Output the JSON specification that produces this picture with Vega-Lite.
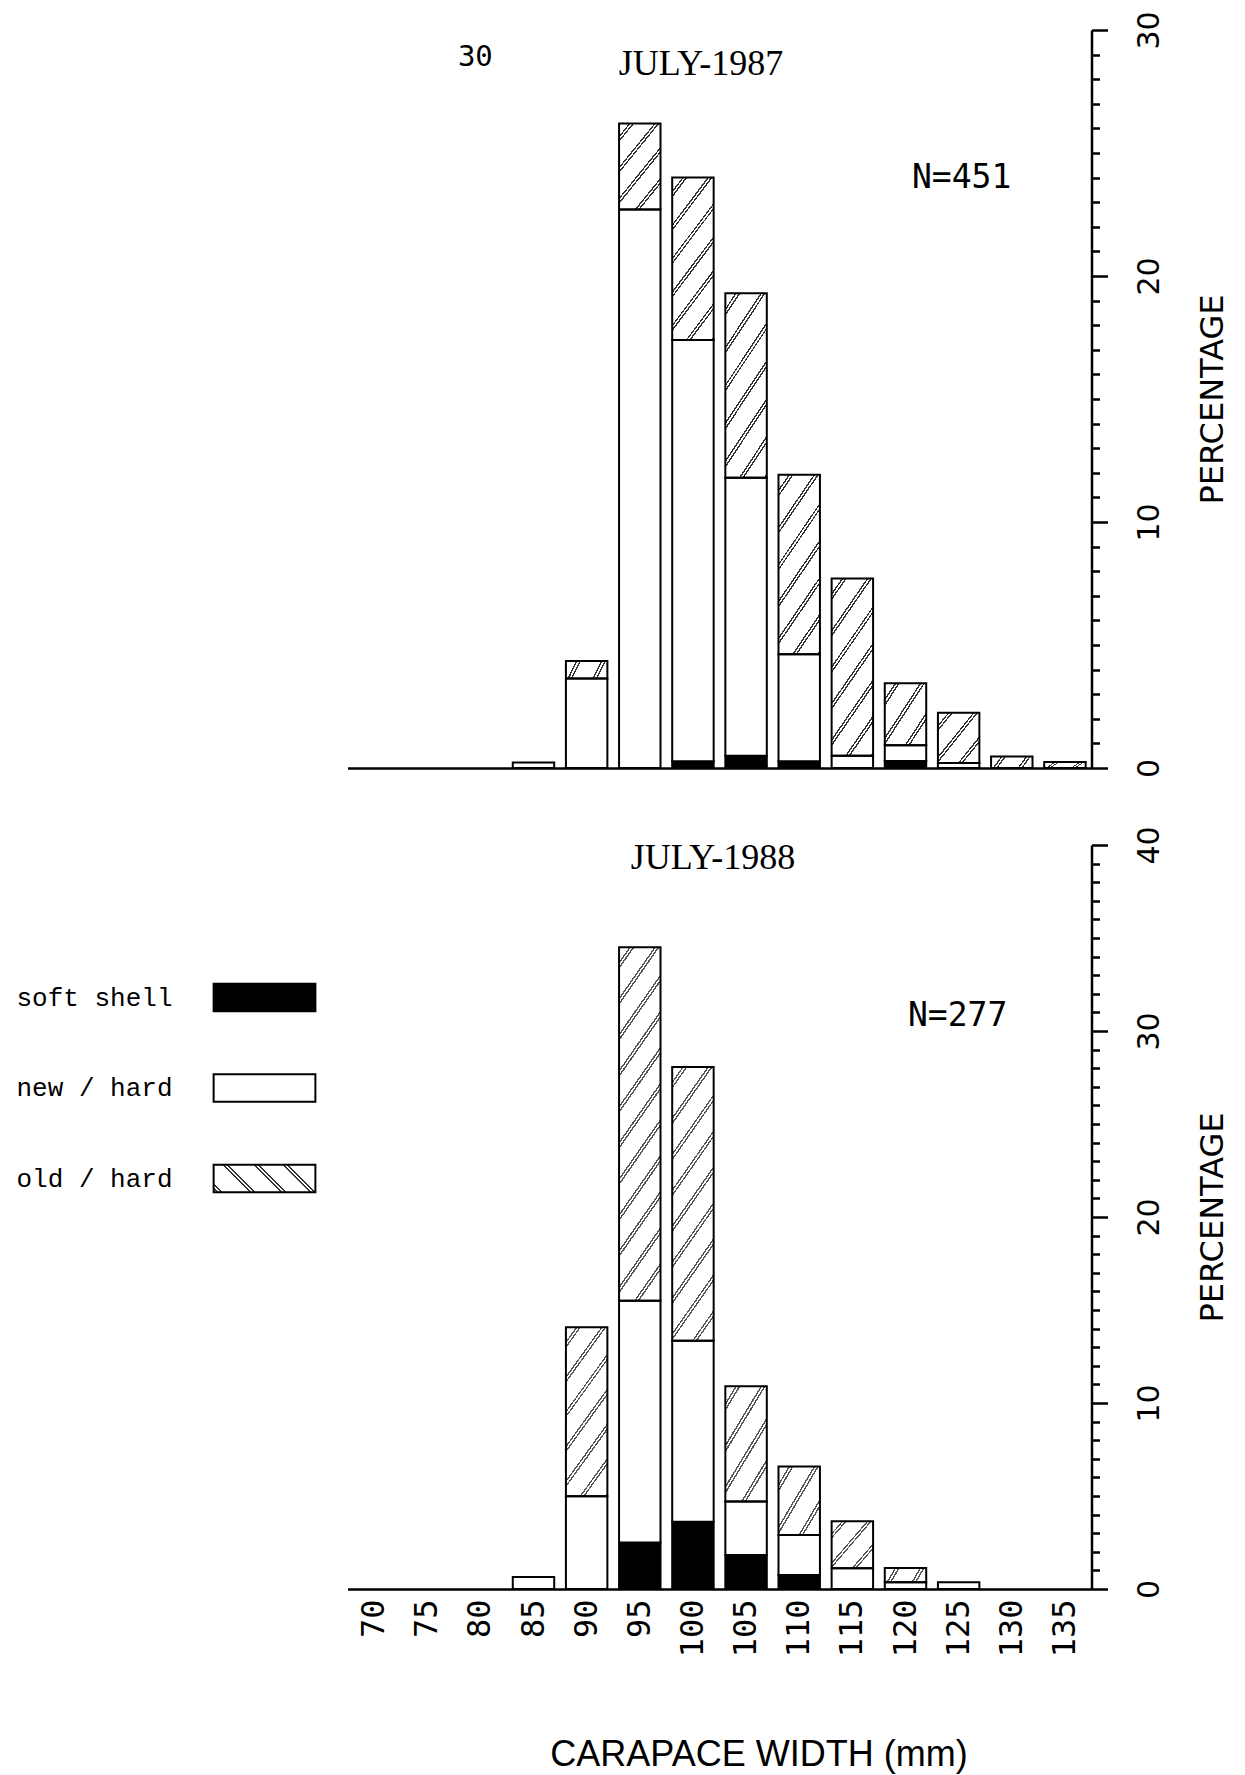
{
  "$schema": "https://vega.github.io/schema/vega-lite/v6.json",
  "background": "white",
  "padding": {"left": 5.5, "top": 10, "right": 5, "bottom": 5},
  "spacing": 47,
  "resolve": {"scale": {"fill": "independent", "x": "independent", "y": "independent"}, "legend": {"fill": "independent"}},
  "config": {"view": {"stroke": null}, "font": "DejaVu Sans"},
  "vconcat": [
    {
      "width": 744,
      "height": 738,
      "data": {"values": [
        {"cw": 85, "shell": "new / hard", "pct": 0.22},
        {"cw": 90, "shell": "new / hard", "pct": 3.64},
        {"cw": 90, "shell": "old / hard", "pct": 0.71},
        {"cw": 95, "shell": "new / hard", "pct": 22.7},
        {"cw": 95, "shell": "old / hard", "pct": 3.5},
        {"cw": 100, "shell": "soft shell", "pct": 0.27},
        {"cw": 100, "shell": "new / hard", "pct": 17.13},
        {"cw": 100, "shell": "old / hard", "pct": 6.6},
        {"cw": 105, "shell": "soft shell", "pct": 0.5},
        {"cw": 105, "shell": "new / hard", "pct": 11.3},
        {"cw": 105, "shell": "old / hard", "pct": 7.5},
        {"cw": 110, "shell": "soft shell", "pct": 0.27},
        {"cw": 110, "shell": "new / hard", "pct": 4.35},
        {"cw": 110, "shell": "old / hard", "pct": 7.3},
        {"cw": 115, "shell": "new / hard", "pct": 0.5},
        {"cw": 115, "shell": "old / hard", "pct": 7.2},
        {"cw": 120, "shell": "soft shell", "pct": 0.28},
        {"cw": 120, "shell": "new / hard", "pct": 0.64},
        {"cw": 120, "shell": "old / hard", "pct": 2.53},
        {"cw": 125, "shell": "new / hard", "pct": 0.2},
        {"cw": 125, "shell": "old / hard", "pct": 2.05},
        {"cw": 130, "shell": "old / hard", "pct": 0.47},
        {"cw": 135, "shell": "old / hard", "pct": 0.24}
      ]},
      "layer": [
        {
          "transform": [
            {"calculate": "indexof(['soft shell','new / hard','old / hard'], datum.shell)", "as": "ord"},
            {"stack": "pct", "groupby": ["cw"], "sort": [{"field": "ord", "order": "ascending"}], "as": ["p0", "p1"]},
            {"filter": "datum.shell === 'old / hard'"}
          ],
          "mark": {"type": "bar", "strokeWidth": 0},
          "encoding": {
            "x": {"field": "cw", "type": "ordinal", "scale": {"domain": [70,75,80,85,90,95,100,105,110,115,120,125,130,135], "paddingInner": 0.22, "paddingOuter": 0.11},
              "axis": {"labels": false, "ticks": false, "title": null, "domainColor": "black", "domainWidth": 2.5}},
            "y": {"field": "p1", "type": "quantitative", "scale": {"domain": [0, 30], "nice": false},
              "axis": {"orient": "right", "values": [0,1,2,3,4,5,6,7,8,9,10,11,12,13,14,15,16,17,18,19,20,21,22,23,24,25,26,27,28,29,30], "tickCount": 60, "format": "d",
                "labelExpr": "datum.value % 10 === 0 ? datum.label : ''",
                "tickSize": {"condition": {"test": "datum.value % 10 === 0", "value": 16}, "value": 8},
                "tickWidth": 2.5, "tickColor": "black", "domainColor": "black", "domainWidth": 2.5, "grid": false,
                "labelAngle": 270, "labelAlign": "center", "labelBaseline": "middle", "labelFont": "DejaVu Sans", "labelFontSize": 30, "labelPadding": 42, "labelColor": "black",
                "labelFlush": false, "labelOverlap": false, "labelBound": false,
                "title": "PERCENTAGE", "titleAngle": 270, "titleFont": "DejaVu Sans", "titleFontSize": 32, "titleFontWeight": "normal", "titleColor": "black",
                "titleX": 121, "titleY": 369, "titleAlign": "center", "titleBaseline": "middle"}},
            "y2": {"field": "p0"},
            "fill": {
              "condition": [
                {"test": "datum.pct < 1.5", "value": {"gradient": "linear", "x1": 0, "y1": 0, "x2": 1.156, "y2": 0.234, "stops": [
                  {"offset":0,"color":"#fff"},
                  {"offset":0.2,"color":"#fff"},{"offset":0.2,"color":"#333"},{"offset":0.232,"color":"#333"},{"offset":0.232,"color":"#fff"},{"offset":0.268,"color":"#fff"},{"offset":0.268,"color":"#333"},{"offset":0.3,"color":"#333"},{"offset":0.3,"color":"#fff"},
                  {"offset":0.7,"color":"#fff"},{"offset":0.7,"color":"#333"},{"offset":0.732,"color":"#333"},{"offset":0.732,"color":"#fff"},{"offset":0.768,"color":"#fff"},{"offset":0.768,"color":"#333"},{"offset":0.8,"color":"#333"},{"offset":0.8,"color":"#fff"},
                  {"offset":1,"color":"#fff"}]}},
                {"test": "datum.pct < 3.2", "value": {"gradient": "linear", "x1": 0, "y1": 0, "x2": 1.011, "y2": 0.989, "stops": [
                  {"offset":0,"color":"#fff"},
                  {"offset":0.123,"color":"#fff"},{"offset":0.123,"color":"#333"},{"offset":0.142,"color":"#333"},{"offset":0.142,"color":"#fff"},{"offset":0.164,"color":"#fff"},{"offset":0.164,"color":"#333"},{"offset":0.184,"color":"#333"},{"offset":0.184,"color":"#fff"},
                  {"offset":0.429,"color":"#fff"},{"offset":0.429,"color":"#333"},{"offset":0.449,"color":"#333"},{"offset":0.449,"color":"#fff"},{"offset":0.471,"color":"#fff"},{"offset":0.471,"color":"#333"},{"offset":0.491,"color":"#333"},{"offset":0.491,"color":"#fff"},
                  {"offset":0.736,"color":"#fff"},{"offset":0.736,"color":"#333"},{"offset":0.756,"color":"#333"},{"offset":0.756,"color":"#fff"},{"offset":0.778,"color":"#fff"},{"offset":0.778,"color":"#333"},{"offset":0.798,"color":"#333"},{"offset":0.798,"color":"#fff"},
                  {"offset":1,"color":"#fff"}]}},
                {"test": "datum.pct < 5", "value": {"gradient": "linear", "x1": 0, "y1": 0, "x2": 0.699, "y2": 1.178, "stops": [
                  {"offset":0,"color":"#fff"},
                  {"offset":0.09,"color":"#fff"},{"offset":0.09,"color":"#333"},{"offset":0.105,"color":"#333"},{"offset":0.105,"color":"#fff"},{"offset":0.121,"color":"#fff"},{"offset":0.121,"color":"#333"},{"offset":0.136,"color":"#333"},{"offset":0.136,"color":"#fff"},
                  {"offset":0.316,"color":"#fff"},{"offset":0.316,"color":"#333"},{"offset":0.331,"color":"#333"},{"offset":0.331,"color":"#fff"},{"offset":0.347,"color":"#fff"},{"offset":0.347,"color":"#333"},{"offset":0.362,"color":"#333"},{"offset":0.362,"color":"#fff"},
                  {"offset":0.541,"color":"#fff"},{"offset":0.541,"color":"#333"},{"offset":0.556,"color":"#333"},{"offset":0.556,"color":"#fff"},{"offset":0.572,"color":"#fff"},{"offset":0.572,"color":"#333"},{"offset":0.587,"color":"#333"},{"offset":0.587,"color":"#fff"},
                  {"offset":0.767,"color":"#fff"},{"offset":0.767,"color":"#333"},{"offset":0.782,"color":"#333"},{"offset":0.782,"color":"#fff"},{"offset":0.798,"color":"#fff"},{"offset":0.798,"color":"#333"},{"offset":0.813,"color":"#333"},{"offset":0.813,"color":"#fff"},
                  {"offset":1,"color":"#fff"}]}}
              ],
              "value": {"gradient": "linear", "x1": 0, "y1": 0, "x2": 0.407, "y2": 1.201, "stops": [
                {"offset":0,"color":"#fff"},
                {"offset":0.061,"color":"#fff"},{"offset":0.061,"color":"#333"},{"offset":0.071,"color":"#333"},{"offset":0.071,"color":"#fff"},{"offset":0.082,"color":"#fff"},{"offset":0.082,"color":"#333"},{"offset":0.092,"color":"#333"},{"offset":0.092,"color":"#fff"},
                {"offset":0.215,"color":"#fff"},{"offset":0.215,"color":"#333"},{"offset":0.225,"color":"#333"},{"offset":0.225,"color":"#fff"},{"offset":0.236,"color":"#fff"},{"offset":0.236,"color":"#333"},{"offset":0.246,"color":"#333"},{"offset":0.246,"color":"#fff"},
                {"offset":0.369,"color":"#fff"},{"offset":0.369,"color":"#333"},{"offset":0.378,"color":"#333"},{"offset":0.378,"color":"#fff"},{"offset":0.39,"color":"#fff"},{"offset":0.39,"color":"#333"},{"offset":0.399,"color":"#333"},{"offset":0.399,"color":"#fff"},
                {"offset":0.522,"color":"#fff"},{"offset":0.522,"color":"#333"},{"offset":0.532,"color":"#333"},{"offset":0.532,"color":"#fff"},{"offset":0.543,"color":"#fff"},{"offset":0.543,"color":"#333"},{"offset":0.553,"color":"#333"},{"offset":0.553,"color":"#fff"},
                {"offset":0.676,"color":"#fff"},{"offset":0.676,"color":"#333"},{"offset":0.686,"color":"#333"},{"offset":0.686,"color":"#fff"},{"offset":0.697,"color":"#fff"},{"offset":0.697,"color":"#333"},{"offset":0.707,"color":"#333"},{"offset":0.707,"color":"#fff"},
                {"offset":0.829,"color":"#fff"},{"offset":0.829,"color":"#333"},{"offset":0.839,"color":"#333"},{"offset":0.839,"color":"#fff"},{"offset":0.85,"color":"#fff"},{"offset":0.85,"color":"#333"},{"offset":0.86,"color":"#333"},{"offset":0.86,"color":"#fff"},
                {"offset":0.983,"color":"#fff"},{"offset":0.983,"color":"#333"},{"offset":0.993,"color":"#333"},{"offset":0.993,"color":"#fff"},
                {"offset":1,"color":"#fff"}]}
            }
          }
        },
        {
          "transform": [
            {"calculate": "indexof(['soft shell','new / hard','old / hard'], datum.shell)", "as": "ord"},
            {"stack": "pct", "groupby": ["cw"], "sort": [{"field": "ord", "order": "ascending"}], "as": ["p0", "p1"]}
          ],
          "mark": {"type": "bar", "stroke": "black", "strokeWidth": 2},
          "encoding": {
            "x": {"field": "cw", "type": "ordinal", "scale": {"domain": [70,75,80,85,90,95,100,105,110,115,120,125,130,135], "paddingInner": 0.22, "paddingOuter": 0.11}},
            "y": {"field": "p1", "type": "quantitative", "scale": {"domain": [0, 30], "nice": false}},
            "y2": {"field": "p0"},
            "fill": {"field": "shell", "type": "nominal", "scale": {"domain": ["soft shell", "new / hard", "old / hard"], "range": ["black", "white", "transparent"]}, "legend": null}
          }
        },
        {
          "data": {"values": [{"t": "30"}]},
          "mark": {"type": "text", "font": "DejaVu Sans Mono", "fontSize": 29, "dx": -5, "align": "center", "baseline": "middle", "fill": "black"},
          "encoding": {
            "x": {"datum": 80, "type": "ordinal"},
            "y": {"datum": 28.9, "type": "quantitative"},
            "text": {"field": "t"}
          }
        },
        {
          "data": {"values": [{"t": "JULY-1987"}]},
          "mark": {"type": "text", "font": "Liberation Serif", "fontSize": 36, "dx": 8, "align": "center", "baseline": "middle", "fill": "black"},
          "encoding": {
            "x": {"datum": 100, "type": "ordinal"},
            "y": {"datum": 28.6, "type": "quantitative"},
            "text": {"field": "t"}
          }
        },
        {
          "data": {"values": [{"t": "N=451"}]},
          "mark": {"type": "text", "font": "DejaVu Sans Mono", "fontSize": 33, "dx": 3, "align": "center", "baseline": "middle", "fill": "black"},
          "encoding": {
            "x": {"datum": 125, "type": "ordinal"},
            "y": {"datum": 24.0, "type": "quantitative"},
            "text": {"field": "t"}
          }
        }
      ]
    },
    {
      "width": 744,
      "height": 744,
      "data": {"values": [
        {"cw": 85, "shell": "new / hard", "pct": 0.65},
        {"cw": 90, "shell": "new / hard", "pct": 4.98},
        {"cw": 90, "shell": "old / hard", "pct": 9.09},
        {"cw": 95, "shell": "soft shell", "pct": 2.5},
        {"cw": 95, "shell": "new / hard", "pct": 13.0},
        {"cw": 95, "shell": "old / hard", "pct": 19.0},
        {"cw": 100, "shell": "soft shell", "pct": 3.62},
        {"cw": 100, "shell": "new / hard", "pct": 9.73},
        {"cw": 100, "shell": "old / hard", "pct": 14.71},
        {"cw": 105, "shell": "soft shell", "pct": 1.83},
        {"cw": 105, "shell": "new / hard", "pct": 2.87},
        {"cw": 105, "shell": "old / hard", "pct": 6.2},
        {"cw": 110, "shell": "soft shell", "pct": 0.75},
        {"cw": 110, "shell": "new / hard", "pct": 2.15},
        {"cw": 110, "shell": "old / hard", "pct": 3.68},
        {"cw": 115, "shell": "new / hard", "pct": 1.11},
        {"cw": 115, "shell": "old / hard", "pct": 2.53},
        {"cw": 120, "shell": "new / hard", "pct": 0.36},
        {"cw": 120, "shell": "old / hard", "pct": 0.77},
        {"cw": 125, "shell": "new / hard", "pct": 0.36}
      ]},
      "layer": [
        {
          "transform": [
            {"calculate": "indexof(['soft shell','new / hard','old / hard'], datum.shell)", "as": "ord"},
            {"stack": "pct", "groupby": ["cw"], "sort": [{"field": "ord", "order": "ascending"}], "as": ["p0", "p1"]},
            {"filter": "datum.shell === 'old / hard'"}
          ],
          "mark": {"type": "bar", "strokeWidth": 0},
          "encoding": {
            "x": {"field": "cw", "type": "ordinal", "scale": {"domain": [70,75,80,85,90,95,100,105,110,115,120,125,130,135], "paddingInner": 0.22, "paddingOuter": 0.11},
              "axis": {"ticks": false, "domainColor": "black", "domainWidth": 2.5, "labelAngle": 270, "labelAlign": "right", "labelBaseline": "middle",
                "labelFont": "DejaVu Sans Mono", "labelFontSize": 32, "labelPadding": 10, "labelColor": "black",
                "title": "CARAPACE WIDTH (mm)", "titleFont": "Liberation Sans", "titleFontSize": 36, "titleFontWeight": "normal", "titleColor": "black",
                "titleX": 411, "titleY": 165, "titleAlign": "center", "titleBaseline": "middle"}},
            "y": {"field": "p1", "type": "quantitative", "scale": {"domain": [0, 40], "nice": false},
              "axis": {"orient": "right", "values": [0,1,2,3,4,5,6,7,8,9,10,11,12,13,14,15,16,17,18,19,20,21,22,23,24,25,26,27,28,29,30,31,32,33,34,35,36,37,38,39,40], "tickCount": 60, "format": "d",
                "labelExpr": "datum.value % 10 === 0 ? datum.label : ''",
                "tickSize": {"condition": {"test": "datum.value % 10 === 0", "value": 16}, "value": 8},
                "tickWidth": 2.5, "tickColor": "black", "domainColor": "black", "domainWidth": 2.5, "grid": false,
                "labelAngle": 270, "labelAlign": "center", "labelBaseline": "middle", "labelFont": "DejaVu Sans", "labelFontSize": 30, "labelPadding": 42, "labelColor": "black",
                "labelFlush": false, "labelOverlap": false, "labelBound": false,
                "title": "PERCENTAGE", "titleAngle": 270, "titleFont": "DejaVu Sans", "titleFontSize": 32, "titleFontWeight": "normal", "titleColor": "black",
                "titleX": 121, "titleY": 372, "titleAlign": "center", "titleBaseline": "middle"}},
            "y2": {"field": "p0"},
            "fill": {
              "condition": [
                {"test": "datum.pct < 1.5", "value": {"gradient": "linear", "x1": 0, "y1": 0, "x2": 1.156, "y2": 0.234, "stops": [
                  {"offset":0,"color":"#fff"},
                  {"offset":0.2,"color":"#fff"},{"offset":0.2,"color":"#555"},{"offset":0.232,"color":"#555"},{"offset":0.232,"color":"#fff"},{"offset":0.268,"color":"#fff"},{"offset":0.268,"color":"#555"},{"offset":0.3,"color":"#555"},{"offset":0.3,"color":"#fff"},
                  {"offset":0.7,"color":"#fff"},{"offset":0.7,"color":"#555"},{"offset":0.732,"color":"#555"},{"offset":0.732,"color":"#fff"},{"offset":0.768,"color":"#fff"},{"offset":0.768,"color":"#555"},{"offset":0.8,"color":"#555"},{"offset":0.8,"color":"#fff"},
                  {"offset":1,"color":"#fff"}]}},
                {"test": "datum.pct < 4.5", "value": {"gradient": "linear", "x1": 0, "y1": 0, "x2": 1.011, "y2": 0.989, "stops": [
                  {"offset":0,"color":"#fff"},
                  {"offset":0.123,"color":"#fff"},{"offset":0.123,"color":"#555"},{"offset":0.142,"color":"#555"},{"offset":0.142,"color":"#fff"},{"offset":0.164,"color":"#fff"},{"offset":0.164,"color":"#555"},{"offset":0.184,"color":"#555"},{"offset":0.184,"color":"#fff"},
                  {"offset":0.429,"color":"#fff"},{"offset":0.429,"color":"#555"},{"offset":0.449,"color":"#555"},{"offset":0.449,"color":"#fff"},{"offset":0.471,"color":"#fff"},{"offset":0.471,"color":"#555"},{"offset":0.491,"color":"#555"},{"offset":0.491,"color":"#fff"},
                  {"offset":0.736,"color":"#fff"},{"offset":0.736,"color":"#555"},{"offset":0.756,"color":"#555"},{"offset":0.756,"color":"#fff"},{"offset":0.778,"color":"#fff"},{"offset":0.778,"color":"#555"},{"offset":0.798,"color":"#555"},{"offset":0.798,"color":"#fff"},
                  {"offset":1,"color":"#fff"}]}},
                {"test": "datum.pct < 7.5", "value": {"gradient": "linear", "x1": 0, "y1": 0, "x2": 0.699, "y2": 1.178, "stops": [
                  {"offset":0,"color":"#fff"},
                  {"offset":0.09,"color":"#fff"},{"offset":0.09,"color":"#555"},{"offset":0.105,"color":"#555"},{"offset":0.105,"color":"#fff"},{"offset":0.121,"color":"#fff"},{"offset":0.121,"color":"#555"},{"offset":0.136,"color":"#555"},{"offset":0.136,"color":"#fff"},
                  {"offset":0.316,"color":"#fff"},{"offset":0.316,"color":"#555"},{"offset":0.331,"color":"#555"},{"offset":0.331,"color":"#fff"},{"offset":0.347,"color":"#fff"},{"offset":0.347,"color":"#555"},{"offset":0.362,"color":"#555"},{"offset":0.362,"color":"#fff"},
                  {"offset":0.541,"color":"#fff"},{"offset":0.541,"color":"#555"},{"offset":0.556,"color":"#555"},{"offset":0.556,"color":"#fff"},{"offset":0.572,"color":"#fff"},{"offset":0.572,"color":"#555"},{"offset":0.587,"color":"#555"},{"offset":0.587,"color":"#fff"},
                  {"offset":0.767,"color":"#fff"},{"offset":0.767,"color":"#555"},{"offset":0.782,"color":"#555"},{"offset":0.782,"color":"#fff"},{"offset":0.798,"color":"#fff"},{"offset":0.798,"color":"#555"},{"offset":0.813,"color":"#555"},{"offset":0.813,"color":"#fff"},
                  {"offset":1,"color":"#fff"}]}},
                {"test": "datum.pct < 12", "value": {"gradient": "linear", "x1": 0, "y1": 0, "x2": 0.407, "y2": 1.201, "stops": [
                  {"offset":0,"color":"#fff"},
                  {"offset":0.061,"color":"#fff"},{"offset":0.061,"color":"#555"},{"offset":0.071,"color":"#555"},{"offset":0.071,"color":"#fff"},{"offset":0.082,"color":"#fff"},{"offset":0.082,"color":"#555"},{"offset":0.092,"color":"#555"},{"offset":0.092,"color":"#fff"},
                  {"offset":0.215,"color":"#fff"},{"offset":0.215,"color":"#555"},{"offset":0.225,"color":"#555"},{"offset":0.225,"color":"#fff"},{"offset":0.236,"color":"#fff"},{"offset":0.236,"color":"#555"},{"offset":0.246,"color":"#555"},{"offset":0.246,"color":"#fff"},
                  {"offset":0.369,"color":"#fff"},{"offset":0.369,"color":"#555"},{"offset":0.378,"color":"#555"},{"offset":0.378,"color":"#fff"},{"offset":0.39,"color":"#fff"},{"offset":0.39,"color":"#555"},{"offset":0.399,"color":"#555"},{"offset":0.399,"color":"#fff"},
                  {"offset":0.522,"color":"#fff"},{"offset":0.522,"color":"#555"},{"offset":0.532,"color":"#555"},{"offset":0.532,"color":"#fff"},{"offset":0.543,"color":"#fff"},{"offset":0.543,"color":"#555"},{"offset":0.553,"color":"#555"},{"offset":0.553,"color":"#fff"},
                  {"offset":0.676,"color":"#fff"},{"offset":0.676,"color":"#555"},{"offset":0.686,"color":"#555"},{"offset":0.686,"color":"#fff"},{"offset":0.697,"color":"#fff"},{"offset":0.697,"color":"#555"},{"offset":0.707,"color":"#555"},{"offset":0.707,"color":"#fff"},
                  {"offset":0.829,"color":"#fff"},{"offset":0.829,"color":"#555"},{"offset":0.839,"color":"#555"},{"offset":0.839,"color":"#fff"},{"offset":0.85,"color":"#fff"},{"offset":0.85,"color":"#555"},{"offset":0.86,"color":"#555"},{"offset":0.86,"color":"#fff"},
                  {"offset":0.983,"color":"#fff"},{"offset":0.983,"color":"#555"},{"offset":0.993,"color":"#555"},{"offset":0.993,"color":"#fff"},
                  {"offset":1,"color":"#fff"}]}},
                {"test": "datum.pct < 17", "value": {"gradient": "linear", "x1": 0, "y1": 0, "x2": 0.2515, "y2": 1.162, "stops": [
                  {"offset":0,"color":"#fff"},
                  {"offset":0.043,"color":"#fff"},{"offset":0.043,"color":"#555"},{"offset":0.05,"color":"#555"},{"offset":0.05,"color":"#fff"},{"offset":0.058,"color":"#fff"},{"offset":0.058,"color":"#555"},{"offset":0.065,"color":"#555"},{"offset":0.065,"color":"#fff"},
                  {"offset":0.151,"color":"#fff"},{"offset":0.151,"color":"#555"},{"offset":0.158,"color":"#555"},{"offset":0.158,"color":"#fff"},{"offset":0.166,"color":"#fff"},{"offset":0.166,"color":"#555"},{"offset":0.173,"color":"#555"},{"offset":0.173,"color":"#fff"},
                  {"offset":0.259,"color":"#fff"},{"offset":0.259,"color":"#555"},{"offset":0.266,"color":"#555"},{"offset":0.266,"color":"#fff"},{"offset":0.274,"color":"#fff"},{"offset":0.274,"color":"#555"},{"offset":0.281,"color":"#555"},{"offset":0.281,"color":"#fff"},
                  {"offset":0.367,"color":"#fff"},{"offset":0.367,"color":"#555"},{"offset":0.374,"color":"#555"},{"offset":0.374,"color":"#fff"},{"offset":0.382,"color":"#fff"},{"offset":0.382,"color":"#555"},{"offset":0.389,"color":"#555"},{"offset":0.389,"color":"#fff"},
                  {"offset":0.475,"color":"#fff"},{"offset":0.475,"color":"#555"},{"offset":0.482,"color":"#555"},{"offset":0.482,"color":"#fff"},{"offset":0.49,"color":"#fff"},{"offset":0.49,"color":"#555"},{"offset":0.497,"color":"#555"},{"offset":0.497,"color":"#fff"},
                  {"offset":0.583,"color":"#fff"},{"offset":0.583,"color":"#555"},{"offset":0.59,"color":"#555"},{"offset":0.59,"color":"#fff"},{"offset":0.598,"color":"#fff"},{"offset":0.598,"color":"#555"},{"offset":0.605,"color":"#555"},{"offset":0.605,"color":"#fff"},
                  {"offset":0.691,"color":"#fff"},{"offset":0.691,"color":"#555"},{"offset":0.698,"color":"#555"},{"offset":0.698,"color":"#fff"},{"offset":0.706,"color":"#fff"},{"offset":0.706,"color":"#555"},{"offset":0.713,"color":"#555"},{"offset":0.713,"color":"#fff"},
                  {"offset":0.799,"color":"#fff"},{"offset":0.799,"color":"#555"},{"offset":0.806,"color":"#555"},{"offset":0.806,"color":"#fff"},{"offset":0.814,"color":"#fff"},{"offset":0.814,"color":"#555"},{"offset":0.821,"color":"#555"},{"offset":0.821,"color":"#fff"},
                  {"offset":0.907,"color":"#fff"},{"offset":0.907,"color":"#555"},{"offset":0.914,"color":"#555"},{"offset":0.914,"color":"#fff"},{"offset":0.922,"color":"#fff"},{"offset":0.922,"color":"#555"},{"offset":0.929,"color":"#555"},{"offset":0.929,"color":"#fff"},
                  {"offset":1,"color":"#fff"}]}}
              ],
              "value": {"gradient": "linear", "x1": 0, "y1": 0, "x2": 0.1908, "y2": 1.136, "stops": [
                {"offset":0,"color":"#fff"},
                {"offset":0.035,"color":"#fff"},{"offset":0.035,"color":"#555"},{"offset":0.041,"color":"#555"},{"offset":0.041,"color":"#fff"},{"offset":0.047,"color":"#fff"},{"offset":0.047,"color":"#555"},{"offset":0.053,"color":"#555"},{"offset":0.053,"color":"#fff"},
                {"offset":0.122,"color":"#fff"},{"offset":0.122,"color":"#555"},{"offset":0.128,"color":"#555"},{"offset":0.128,"color":"#fff"},{"offset":0.134,"color":"#fff"},{"offset":0.134,"color":"#555"},{"offset":0.14,"color":"#555"},{"offset":0.14,"color":"#fff"},
                {"offset":0.209,"color":"#fff"},{"offset":0.209,"color":"#555"},{"offset":0.215,"color":"#555"},{"offset":0.215,"color":"#fff"},{"offset":0.221,"color":"#fff"},{"offset":0.221,"color":"#555"},{"offset":0.227,"color":"#555"},{"offset":0.227,"color":"#fff"},
                {"offset":0.297,"color":"#fff"},{"offset":0.297,"color":"#555"},{"offset":0.303,"color":"#555"},{"offset":0.303,"color":"#fff"},{"offset":0.309,"color":"#fff"},{"offset":0.309,"color":"#555"},{"offset":0.315,"color":"#555"},{"offset":0.315,"color":"#fff"},
                {"offset":0.384,"color":"#fff"},{"offset":0.384,"color":"#555"},{"offset":0.39,"color":"#555"},{"offset":0.39,"color":"#fff"},{"offset":0.396,"color":"#fff"},{"offset":0.396,"color":"#555"},{"offset":0.402,"color":"#555"},{"offset":0.402,"color":"#fff"},
                {"offset":0.471,"color":"#fff"},{"offset":0.471,"color":"#555"},{"offset":0.477,"color":"#555"},{"offset":0.477,"color":"#fff"},{"offset":0.483,"color":"#fff"},{"offset":0.483,"color":"#555"},{"offset":0.489,"color":"#555"},{"offset":0.489,"color":"#fff"},
                {"offset":0.559,"color":"#fff"},{"offset":0.559,"color":"#555"},{"offset":0.565,"color":"#555"},{"offset":0.565,"color":"#fff"},{"offset":0.571,"color":"#fff"},{"offset":0.571,"color":"#555"},{"offset":0.577,"color":"#555"},{"offset":0.577,"color":"#fff"},
                {"offset":0.646,"color":"#fff"},{"offset":0.646,"color":"#555"},{"offset":0.652,"color":"#555"},{"offset":0.652,"color":"#fff"},{"offset":0.658,"color":"#fff"},{"offset":0.658,"color":"#555"},{"offset":0.664,"color":"#555"},{"offset":0.664,"color":"#fff"},
                {"offset":0.733,"color":"#fff"},{"offset":0.733,"color":"#555"},{"offset":0.739,"color":"#555"},{"offset":0.739,"color":"#fff"},{"offset":0.745,"color":"#fff"},{"offset":0.745,"color":"#555"},{"offset":0.751,"color":"#555"},{"offset":0.751,"color":"#fff"},
                {"offset":0.821,"color":"#fff"},{"offset":0.821,"color":"#555"},{"offset":0.827,"color":"#555"},{"offset":0.827,"color":"#fff"},{"offset":0.833,"color":"#fff"},{"offset":0.833,"color":"#555"},{"offset":0.839,"color":"#555"},{"offset":0.839,"color":"#fff"},
                {"offset":0.908,"color":"#fff"},{"offset":0.908,"color":"#555"},{"offset":0.914,"color":"#555"},{"offset":0.914,"color":"#fff"},{"offset":0.92,"color":"#fff"},{"offset":0.92,"color":"#555"},{"offset":0.926,"color":"#555"},{"offset":0.926,"color":"#fff"},
                {"offset":1,"color":"#fff"}]}
            }
          }
        },
        {
          "transform": [
            {"calculate": "indexof(['soft shell','new / hard','old / hard'], datum.shell)", "as": "ord"},
            {"stack": "pct", "groupby": ["cw"], "sort": [{"field": "ord", "order": "ascending"}], "as": ["p0", "p1"]}
          ],
          "mark": {"type": "bar", "stroke": "black", "strokeWidth": 2},
          "encoding": {
            "x": {"field": "cw", "type": "ordinal", "scale": {"domain": [70,75,80,85,90,95,100,105,110,115,120,125,130,135], "paddingInner": 0.22, "paddingOuter": 0.11}},
            "y": {"field": "p1", "type": "quantitative", "scale": {"domain": [0, 40], "nice": false}},
            "y2": {"field": "p0"},
            "fill": {"field": "shell", "type": "nominal",
              "condition": {"test": "datum.shell === 'old / hard'", "value": "transparent"},
              "scale": {"domain": ["soft shell", "new / hard", "old / hard"], "range": ["black", "white",
                {"expr": "{gradient: 'linear', x1: 0, y1: 1, x2: 1.184, y2: 0.68, stops: [{offset: 0, color: '#fff'}, {offset: 0.027, color: '#fff'}, {offset: 0.027, color: '#333'}, {offset: 0.042, color: '#333'}, {offset: 0.042, color: '#fff'}, {offset: 0.058, color: '#fff'}, {offset: 0.058, color: '#333'}, {offset: 0.073, color: '#333'}, {offset: 0.073, color: '#fff'}, {offset: 0.277, color: '#fff'}, {offset: 0.277, color: '#333'}, {offset: 0.292, color: '#333'}, {offset: 0.292, color: '#fff'}, {offset: 0.308, color: '#fff'}, {offset: 0.308, color: '#333'}, {offset: 0.323, color: '#333'}, {offset: 0.323, color: '#fff'}, {offset: 0.517, color: '#fff'}, {offset: 0.517, color: '#333'}, {offset: 0.532, color: '#333'}, {offset: 0.532, color: '#fff'}, {offset: 0.548, color: '#fff'}, {offset: 0.548, color: '#333'}, {offset: 0.563, color: '#333'}, {offset: 0.563, color: '#fff'}, {offset: 0.747, color: '#fff'}, {offset: 0.747, color: '#333'}, {offset: 0.762, color: '#333'}, {offset: 0.762, color: '#fff'}, {offset: 0.778, color: '#fff'}, {offset: 0.778, color: '#333'}, {offset: 0.793, color: '#333'}, {offset: 0.793, color: '#fff'}, {offset: 1, color: '#fff'}]}"}]},
              "legend": {"orient": "none", "legendX": -341.5, "legendY": 124, "title": null, "direction": "vertical",
                "symbolType": "M-1.85,-0.5H1.85V0.5H-1.85Z", "symbolSize": 3025, "symbolStrokeColor": "black", "symbolStrokeWidth": 2, "symbolOffset": 230,
                "labelFont": "Liberation Mono", "labelFontSize": 26, "labelColor": "black", "labelAlign": "right", "labelOffset": -120.5, "labelLimit": 400,
                "rowPadding": 43.5, "padding": 0}}
          }
        },
        {
          "data": {"values": [{"t": "JULY-1988"}]},
          "mark": {"type": "text", "font": "Liberation Serif", "fontSize": 36, "dx": 20, "align": "center", "baseline": "middle", "fill": "black"},
          "encoding": {
            "x": {"datum": 100, "type": "ordinal"},
            "y": {"datum": 39.3, "type": "quantitative"},
            "text": {"field": "t"}
          }
        },
        {
          "data": {"values": [{"t": "N=277"}]},
          "mark": {"type": "text", "font": "DejaVu Sans Mono", "fontSize": 33, "dx": -1, "align": "center", "baseline": "middle", "fill": "black"},
          "encoding": {
            "x": {"datum": 125, "type": "ordinal"},
            "y": {"datum": 30.8, "type": "quantitative"},
            "text": {"field": "t"}
          }
        }
      ]
    }
  ]
}
